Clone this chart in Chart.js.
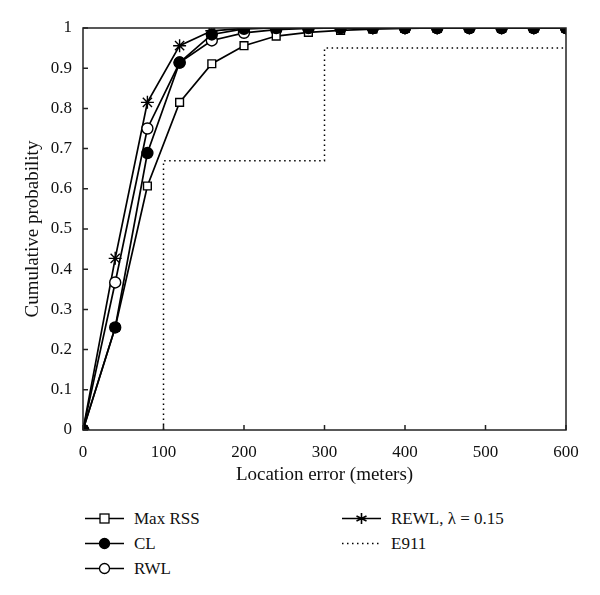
<!DOCTYPE html>
<html lang="en">
<head>
<meta charset="UTF-8">
<title>Cumulative probability</title>
<script src="https://cdn.jsdelivr.net/npm/chart.js"></script>
<style>
  body { margin: 0; background: #fff; font-family: "Liberation Serif", serif; }
  #wrap { position: relative; width: 600px; height: 595px; }
  #box { position: absolute; left: 0; top: 0; width: 600px; height: 490px; }
  .leg { position: absolute; display: flex; align-items: center; font-size: 17px; color: #111; }
  .leg svg { margin-right: 10px; }
</style>
</head>
<body>
<div id="wrap">
  <div id="box"><canvas id="grafico"></canvas></div>
  <div id="legenda"></div>
</div>
<script>
  // distancias (m) onde as curvas foram medidas
  const distancias = [0, 40, 80, 120, 160, 200, 240, 280, 320, 360, 400, 440, 480, 520, 560, 600];
  const maxRss = [0, 0.255, 0.607, 0.815, 0.911, 0.956, 0.980, 0.989, 0.994, 0.997, 0.999, 1, 1, 1, 1, 1];
  const cl     = [0, 0.255, 0.689, 0.914, 0.984, 0.998, 1, 1, 1, 1, 1, 1, 1, 1, 1, 1];
  const rwl    = [0, 0.367, 0.750, 0.914, 0.969, 0.988, 0.996, 0.999, 1, 1, 1, 1, 1, 1, 1, 1];
  const rewl   = [0, 0.427, 0.815, 0.956, 0.993, 0.999, 1, 1, 1, 1, 1, 1, 1, 1, 1, 1];
  // requisito E911 (degraus)
  const e911X = [100, 100, 300, 300, 600];
  const e911Y = [0, 0.67, 0.67, 0.95, 0.95];

  const fonte = { family: '"Liberation Serif", serif', size: 17 };
  const fonteTitulo = { family: '"Liberation Serif", serif', size: 19 };

  function pares(xs, ys) {
    return xs.map((x, i) => ({ x: x, y: ys[i] }));
  }

  // moldura e marcas de escala para dentro
  const moldura = {
    id: 'moldura',
    afterDraw(chart) {
      const ctx = chart.ctx;
      const a = chart.chartArea;
      ctx.save();
      ctx.strokeStyle = '#222';
      ctx.lineWidth = 1.5;
      ctx.strokeRect(a.left, a.top, a.right - a.left, a.bottom - a.top);
      ctx.beginPath();
      chart.scales.x.ticks.forEach(t => {
        const px = chart.scales.x.getPixelForValue(t.value);
        ctx.moveTo(px, a.bottom);
        ctx.lineTo(px, a.bottom - 5);
      });
      chart.scales.y.ticks.forEach(t => {
        const py = chart.scales.y.getPixelForValue(t.value);
        ctx.moveTo(a.left, py);
        ctx.lineTo(a.left + 5, py);
      });
      ctx.stroke();
      ctx.restore();
    }
  };

  // ordem de desenho: a primeira fica por cima
  const series = [
    { label: 'Max RSS', data: pares(distancias, maxRss), pointStyle: 'rect', pointBackgroundColor: '#fff', pointRadius: 5.5, order: 2 },
    { label: 'CL', data: pares(distancias, cl), pointStyle: 'circle', pointBackgroundColor: '#000', pointRadius: 5.5, order: 1 },
    { label: 'RWL', data: pares(distancias, rwl), pointStyle: 'circle', pointBackgroundColor: '#fff', pointRadius: 5.5, order: 3 },
    { label: 'REWL, \u03bb = 0.15', data: pares(distancias, rewl), pointStyle: 'star', pointBackgroundColor: '#000', pointRadius: 6.5, order: 4 },
    { label: 'E911', data: pares(e911X, e911Y), pointRadius: 0, borderDash: [1.5, 3.5], borderWidth: 1.5, order: 5 }
  ];

  const grafico = new Chart(document.getElementById('grafico'), {
    type: 'line',
    data: {
      datasets: series.map(s => Object.assign({
        borderColor: '#000',
        pointBorderColor: '#000',
        pointBorderWidth: 1.4,
        borderWidth: 1.7,
        tension: 0,
        fill: false
      }, s))
    },
    options: {
      responsive: true,
      maintainAspectRatio: false,
      animation: false,
      layout: { padding: { top: 28, right: 34, left: 0, bottom: 0 } },
      plugins: { legend: { display: false }, tooltip: { enabled: false } },
      scales: {
        x: {
          type: 'linear', min: 0, max: 600,
          grid: { display: false }, border: { display: false },
          ticks: { stepSize: 100, color: '#111', font: fonte, padding: 4, maxRotation: 0 },
          title: { display: true, text: 'Location error (meters)', color: '#111', font: fonteTitulo, padding: { top: 4 } },
          afterFit(s) { s.height = 60; }
        },
        y: {
          min: 0, max: 1,
          grid: { display: false }, border: { display: false },
          ticks: { stepSize: 0.1, color: '#111', font: fonte, padding: 3,
            callback: v => Number(v.toFixed(1)).toString() },
          title: { display: true, text: 'Cumulative probability', color: '#111', font: fonteTitulo, padding: { top: 22, bottom: 0 } },
          afterFit(s) { s.width = 83; }
        }
      }
    },
    plugins: [moldura]
  });

  // legenda em duas colunas, montada a partir dos datasets
  const posicoes = [[85, 519], [85, 544], [85, 569], [342, 519], [342, 544]];
  const legenda = document.getElementById('legenda');
  grafico.data.datasets.forEach((ds, i) => {
    const [lx, ly] = posicoes[i];
    let simbolo = '';
    if (ds.pointStyle === 'rect') simbolo = '<rect x="15" y="6" width="9" height="9" fill="#fff" stroke="#000" stroke-width="1.3"/>';
    if (ds.pointStyle === 'circle') simbolo = '<circle cx="19.5" cy="10.5" r="5" fill="' + ds.pointBackgroundColor + '" stroke="#000" stroke-width="1.3"/>';
    if (ds.pointStyle === 'star') simbolo = '<path d="M19.5 5v11M14.5 8l10 5M14.5 13l10-5" stroke="#000" stroke-width="1.6"/>';
    const linha = ds.borderDash
      ? '<line x1="0" y1="10.5" x2="39" y2="10.5" stroke="#000" stroke-width="1.5" stroke-dasharray="1.5 3.5"/>'
      : '<line x1="0" y1="10.5" x2="39" y2="10.5" stroke="#000" stroke-width="1.5"/>';
    const el = document.createElement('div');
    el.className = 'leg';
    el.style.left = lx + 'px';
    el.style.top = (ly - 11) + 'px';
    el.innerHTML = '<svg width="39" height="21">' + linha + simbolo + '</svg><span>' + ds.label + '</span>';
    legenda.appendChild(el);
  });
</script>
</body>
</html>
